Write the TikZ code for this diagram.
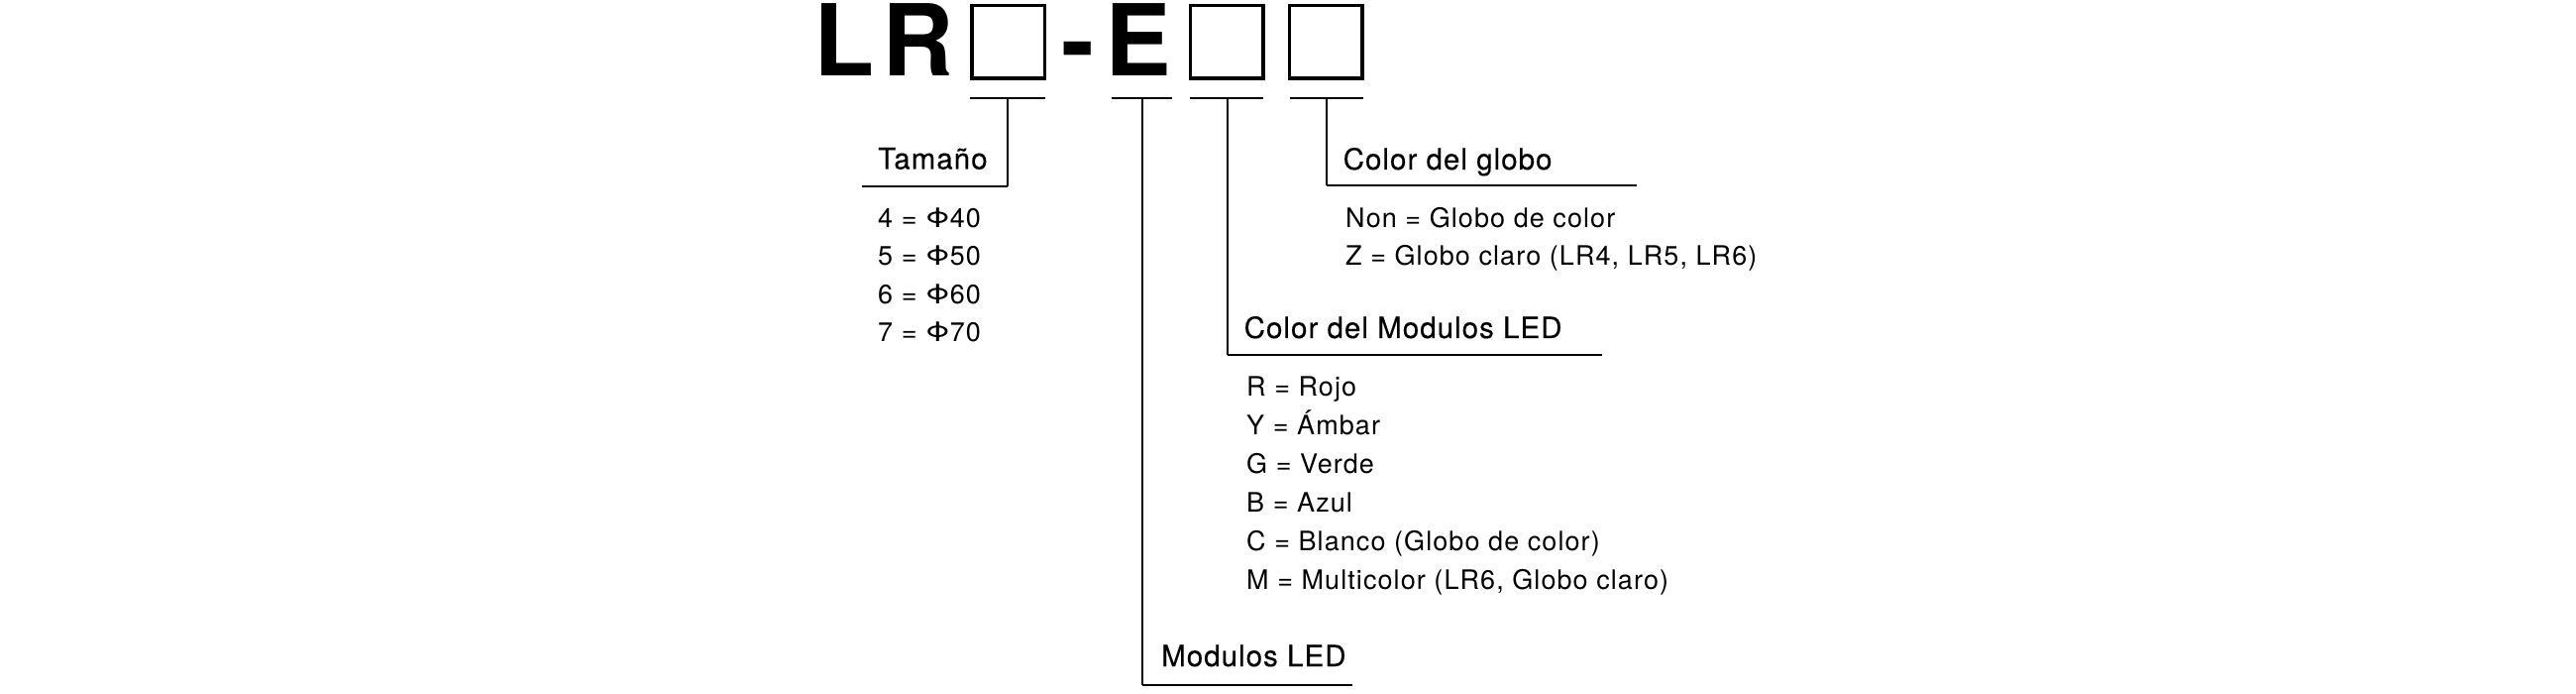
\documentclass[tikz,border=0pt]{standalone}
\usepackage{fontspec}
\usepackage{graphicx}
\setmainfont{TeX Gyre Heros}
\newfontfamily\headfont[LetterSpace=3.5,FakeBold=0.3]{TeX Gyre Heros}
\newfontfamily\itemfont[LetterSpace=4]{TeX Gyre Heros}
\newcommand\phisym{\scalebox{1.2}[1]{Φ}}
\tikzset{
  big/.style={anchor=base west, inner sep=0pt, font=\fontsize{100}{100}\selectfont\bfseries},
  slot/.style={draw, line width=3.5pt, minimum width=73.5pt, minimum height=73.5pt, inner sep=0pt},
  head/.style={anchor=base west, inner sep=0pt, font=\headfont\fontsize{29.5}{34}\selectfont},
  item/.style={anchor=base west, inner sep=0pt, font=\itemfont\fontsize{27}{32}\selectfont},
  under/.style={line width=2.2pt},
  tick/.style={line width=1.4pt},
  hline/.style={line width=2pt},
}
\begin{document}
\begin{tikzpicture}[x=1pt,y=-1pt]
\fill[white] (0,0) rectangle (2600,700);
\useasboundingbox (0,0) rectangle (2600,700);
% code
\node[big] (L) at (821,77) {L};
\node[big] (R) at (890,77) {R};
\node[slot] (b1) at (1017.5,42.5) {};
\node[big] (dash) at (1071,77) {-};
\node[big] (E) at (1115,77) {E};
\node[slot] (b2) at (1238,42.5) {};
\node[slot] (b3) at (1338,42.5) {};
% underlines
\coordinate (u1w) at (979,99);  \coordinate (u1e) at (1055,99);
\coordinate (u2w) at (1122,99); \coordinate (u2e) at (1183,99);
\coordinate (u3w) at (1201,99); \coordinate (u3e) at (1275,99);
\coordinate (u4w) at (1302,99); \coordinate (u4e) at (1376,99);
\draw[under] (u1w) -- (u1e);
\draw[under] (u2w) -- (u2e);
\draw[under] (u3w) -- (u3e);
\draw[under] (u4w) -- (u4e);
% ticks
\coordinate (k1) at (1017,99); \coordinate (j1) at (1017,188); \coordinate (h1) at (870,188);
\coordinate (k2) at (1153,99); \coordinate (j2) at (1153,691); \coordinate (h2) at (1365,691);
\coordinate (k3) at (1239,99); \coordinate (j3) at (1239,358); \coordinate (h3) at (1617,358);
\coordinate (k4) at (1339,99); \coordinate (j4) at (1339,187); \coordinate (h4) at (1652,187);
\draw[tick] (k1) -- (j1); \draw[hline] (j1) -- (h1);
\draw[tick] (k2) -- (j2); \draw[hline] (j2) -- (h2);
\draw[tick] (k3) -- (j3); \draw[hline] (j3) -- (h3);
\draw[tick] (k4) -- (j4); \draw[hline] (j4) -- (h4);
% Tamano
\node[head] (tam) at (886,170.5) {Tamaño};
\node[item] (t4) at (886,229.5) {4 = \phisym40};
\node[item] (t5) at (886,268) {5 = \phisym50};
\node[item] (t6) at (886,306.5) {6 = \phisym60};
\node[item] (t7) at (886,345) {7 = \phisym70};
% globo
\node[head] (glo) at (1355.5,171) {Color del globo};
\node[item] (g1) at (1358,229.5) {Non = Globo de color};
\node[item] (g2) at (1358,268) {Z = Globo claro (LR4, LR5, LR6)};
% LED color
\node[head] (led) at (1255.5,341) {Color del Modulos LED};
\node[item] (c1) at (1258,400) {R = Rojo};
\node[item] (c2) at (1258,438.8) {Y = Ámbar};
\node[item] (c3) at (1258,477.6) {G = Verde};
\node[item] (c4) at (1258,516.4) {B = Azul};
\node[item] (c5) at (1258,555.2) {C = Blanco (Globo de color)};
\node[item] (c6) at (1258,594) {M = Multicolor (LR6, Globo claro)};
% Modulos LED
\node[head] (mod) at (1172,672) {Modulos LED};
\end{tikzpicture}
\end{document}
